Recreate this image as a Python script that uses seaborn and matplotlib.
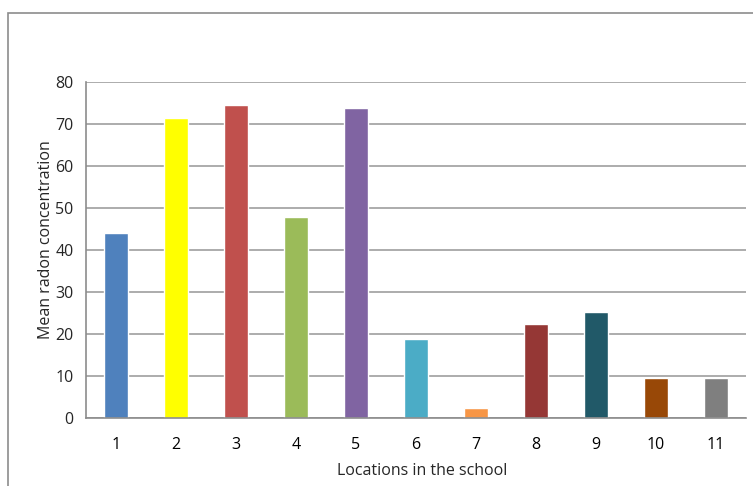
import matplotlib
matplotlib.use("Agg")
import matplotlib.pyplot as plt
import seaborn as sns
import pandas as pd
import numpy as np
from matplotlib.patches import Rectangle

# chart data
locations = ["1", "2", "3", "4", "5", "6", "7", "8", "9", "10", "11"]
radon = [44.0, 71.4, 74.5, 47.8, 73.9, 18.7, 2.5, 22.5, 25.2, 9.5, 9.5]
bar_colors = ["#4F81BD", "#FFFF00", "#C0504D", "#9BBB59", "#8064A2", "#4BACC6",
              "#F79646", "#953735", "#215968", "#984807", "#7F7F7F"]
y_ticks = [0, 10, 20, 30, 40, 50, 60, 70, 80]

df = pd.DataFrame({"Location": locations, "Radon": radon})

sns.set_style("white")
plt.rcParams["font.family"] = ["Open Sans", "DejaVu Sans"]

fig = plt.figure(figsize=(7.53, 4.86), dpi=100)
ax = fig.add_axes([0.1142, 0.1399, 0.8765, 0.6914])

sns.barplot(data=df, x="Location", y="Radon", hue="Location", palette=bar_colors,
            width=0.4, legend=False, ax=ax, saturation=1)

# gridlines
ax.set_ylim(0, 80)
ax.set_xlim(-0.5, 10.5)
ax.set_yticks(y_ticks)
ax.yaxis.grid(True, color="#a6a6a6", linewidth=1.3)
ax.set_axisbelow(True)

for s in ["top", "right"]:
    ax.spines[s].set_visible(False)
for s in ["left", "bottom"]:
    ax.spines[s].set_color("#8c8c8c")
    ax.spines[s].set_linewidth(1.2)

# ticks at category boundaries
ax.set_xticks(np.arange(len(locations)))
ax.set_xticklabels(locations)
ax.set_xticks(np.arange(-0.5, len(locations), 1), minor=True)
ax.tick_params(axis="x", which="major", length=0, pad=14, labelsize=11.5, colors="black")
ax.tick_params(axis="x", which="minor", length=5, width=1.2, color="#8c8c8c", direction="out")
ax.tick_params(axis="y", length=4, width=1.2, color="#8c8c8c", direction="out", labelsize=11.5, pad=5)

ax.set_xlabel("Locations in the school", fontsize=11.5)
ax.set_ylabel("Mean radon concentration", fontsize=11.5)
ax.xaxis.set_label_coords(0.509, -0.135)
ax.yaxis.set_label_coords(-0.048, 0.53)

# outer chart border
fig.patches.append(Rectangle((8 / 753, -0.1), 1.2, (486 - 13) / 486 + 0.1,
                             transform=fig.transFigure, fill=False,
                             edgecolor="#8c8c8c", linewidth=1.2))

plt.savefig("out.png", dpi=100)
